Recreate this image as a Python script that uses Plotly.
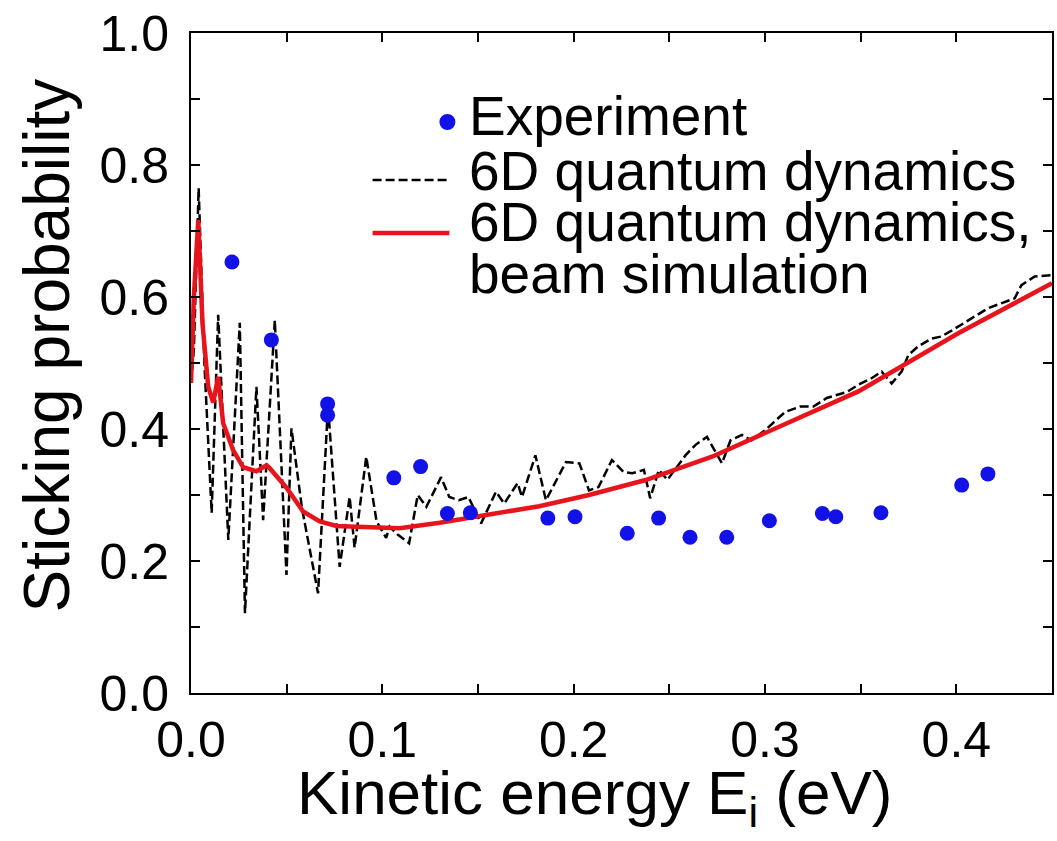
import plotly.graph_objects as go

# Measured sticking probabilities
exp_energy = [0.0214, 0.042, 0.0714, 0.0714, 0.106, 0.120, 0.134, 0.146, 0.1865,
              0.2007, 0.228, 0.2444, 0.2608, 0.280, 0.3023, 0.330, 0.337, 0.3606,
              0.4028, 0.4165]
exp_sticking = [0.653, 0.535, 0.438, 0.421, 0.326, 0.343, 0.272, 0.273, 0.265,
                0.267, 0.242, 0.265, 0.236, 0.236, 0.261, 0.272, 0.267, 0.273,
                0.315, 0.332]

# 6D quantum dynamics (mono-energetic)
qd_energy = [0.000, 0.0015, 0.004, 0.007, 0.0108, 0.0142, 0.0195, 0.0255, 0.0282,
             0.0342, 0.0377, 0.0438, 0.0499, 0.0525, 0.058, 0.0664, 0.0716, 0.0777,
             0.0829, 0.0855, 0.0916, 0.097, 0.102, 0.1038, 0.108, 0.114, 0.1185,
             0.123, 0.1307, 0.135, 0.140, 0.145, 0.1516, 0.1594, 0.1637, 0.1707,
             0.173, 0.180, 0.1855, 0.196, 0.203, 0.208, 0.213, 0.220, 0.226, 0.2306,
             0.2367, 0.240, 0.2445, 0.249, 0.2584, 0.2637, 0.2697, 0.2775, 0.282,
             0.288, 0.293, 0.300, 0.306, 0.3106, 0.3184, 0.3253, 0.3323, 0.3427,
             0.3488, 0.3557, 0.361, 0.3662, 0.3714, 0.3749, 0.380, 0.387, 0.392,
             0.3975, 0.4166, 0.4305, 0.434, 0.441, 0.450]
qd_sticking = [0.47, 0.52, 0.765, 0.50, 0.273, 0.573, 0.232, 0.561, 0.121,
               0.464, 0.262, 0.565, 0.179, 0.401, 0.28, 0.151, 0.435, 0.191,
               0.297, 0.220, 0.358, 0.26, 0.235, 0.252, 0.24, 0.227, 0.30,
               0.282, 0.327, 0.297, 0.292, 0.297, 0.257, 0.305, 0.287, 0.318,
               0.297, 0.36, 0.292, 0.35, 0.348, 0.307, 0.312, 0.353, 0.335, 0.333,
               0.338, 0.295, 0.338, 0.323, 0.36, 0.376, 0.388, 0.348, 0.383,
               0.391, 0.383, 0.398, 0.414, 0.426, 0.434, 0.434, 0.447, 0.456,
               0.467, 0.477, 0.487, 0.469, 0.487, 0.512, 0.525, 0.537, 0.540,
               0.549, 0.583, 0.598, 0.618, 0.631, 0.633]

# 6D quantum dynamics averaged over the beam energy distribution
beam_energy = [0.000, 0.0015, 0.0038, 0.006, 0.009, 0.0116, 0.0142, 0.0168, 0.022,
               0.0273, 0.0342, 0.0395, 0.041, 0.0473, 0.0499, 0.0586, 0.0673, 0.076,
               0.0933, 0.109, 0.130, 0.156, 0.182, 0.208, 0.2376, 0.2723, 0.307,
               0.3488, 0.401, 0.450]
beam_sticking = [0.47, 0.60, 0.717, 0.56, 0.464, 0.44, 0.479, 0.409, 0.368,
                 0.342, 0.336, 0.345, 0.341, 0.318, 0.311, 0.275, 0.260, 0.253,
                 0.251, 0.2495, 0.258, 0.270, 0.283, 0.300, 0.3227, 0.358, 0.403,
                 0.457, 0.545, 0.621]

x_ticks = [0.0, 0.1, 0.2, 0.3, 0.4]
x_ticklabels = ["0.0", "0.1", "0.2", "0.3", "0.4"]
y_ticks = [0.0, 0.2, 0.4, 0.6, 0.8, 1.0]
y_ticklabels = ["0.0", "0.2", "0.4", "0.6", "0.8", "1.0"]

legend_labels = ["Experiment", "6D quantum dynamics", "6D quantum dynamics,", "beam simulation"]

BLUE = "#1212e8"
RED = "#e8141c"
FONT = "Liberation Sans, Arial, Helvetica, sans-serif"

fig = go.Figure()

fig.add_trace(go.Scatter(
    x=qd_energy, y=qd_sticking, mode="lines",
    line=dict(color="black", width=2.5, dash="9px,4px"),
    showlegend=False,
))
fig.add_trace(go.Scatter(
    x=beam_energy, y=beam_sticking, mode="lines",
    line=dict(color=RED, width=4.5),
    showlegend=False,
))
fig.add_trace(go.Scatter(
    x=exp_energy, y=exp_sticking, mode="markers",
    marker=dict(color=BLUE, size=15, line=dict(width=0)),
    showlegend=False,
))

axis_common = dict(
    showline=True, linecolor="black", linewidth=2, mirror="ticks",
    ticks="inside", ticklen=9, tickwidth=2, tickcolor="black",
    showgrid=False, zeroline=False,
    tickfont=dict(family=FONT, size=50, color="black"),
)

fig.update_xaxes(
    range=[0, 0.45], tickvals=x_ticks, ticktext=x_ticklabels,
    minor=dict(dtick=0.05, ticks="inside", ticklen=9, tickwidth=2, tickcolor="black", showgrid=False),
    ticklabelstandoff=2,
    **axis_common,
)
fig.update_yaxes(
    range=[0, 1.0], tickvals=y_ticks, ticktext=y_ticklabels,
    minor=dict(dtick=0.1, ticks="inside", ticklen=9, tickwidth=2, tickcolor="black", showgrid=False),
    ticklabelstandoff=10,
    **axis_common,
)

# Legend: symbols as shapes, labels as annotations (paper coordinates)
shapes = [
    dict(type="circle", xref="paper", yref="paper",
         x0=0.2885, x1=0.3071, y0=0.8530, y1=0.8773,
         fillcolor=BLUE, line=dict(width=0)),
    dict(type="line", xref="paper", yref="paper",
         x0=0.2109, x1=0.3001, y0=0.7773, y1=0.7773,
         line=dict(color="black", width=2.5, dash="9px,4px")),
    dict(type="line", xref="paper", yref="paper",
         x0=0.2109, x1=0.3001, y0=0.6970, y1=0.6970,
         line=dict(color=RED, width=4.5)),
]

legend_y = [0.8750, 0.7910, 0.7135, 0.6345]
annotations = []
for label, ly in zip(legend_labels, legend_y):
    annotations.append(dict(
        text=label, xref="paper", yref="paper", x=0.3210, y=ly,
        xanchor="left", yanchor="middle", showarrow=False,
        font=dict(family=FONT, size=55, color="black"),
    ))

# Axis titles
annotations.append(dict(
    text="Kinetic energy E<sub>i</sub> (eV)", xref="paper", yref="paper",
    x=0.469, y=-0.158, xanchor="center", yanchor="middle", showarrow=False,
    font=dict(family=FONT, size=62, color="black"),
))
annotations.append(dict(
    text="Sticking probability", xref="paper", yref="paper",
    x=-0.167, y=0.527, xanchor="center", yanchor="middle", textangle=-90,
    showarrow=False, font=dict(family=FONT, size=64, color="black"),
))

fig.update_layout(
    width=1057, height=841,
    margin=dict(l=191, r=3, t=33, b=148),
    plot_bgcolor="white", paper_bgcolor="white",
    showlegend=False,
    shapes=shapes,
    annotations=annotations,
)

fig.write_html("out.html")
